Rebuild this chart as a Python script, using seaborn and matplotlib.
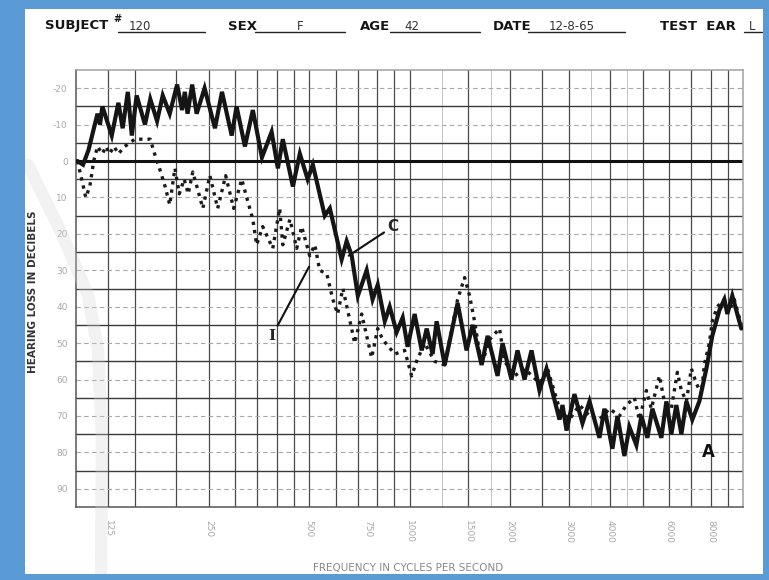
import matplotlib
matplotlib.use("Agg")
import matplotlib.pyplot as plt
from matplotlib.patches import Rectangle
from matplotlib.lines import Line2D
import pandas as pd
import seaborn as sns

# Continuous-tone Bekesy tracing (C): frequency in Hz, threshold in dB
cont_freq = [101, 105, 109, 116, 118, 120, 128, 134, 138, 143, 147, 152, 161, 167,
             175, 182, 191, 201, 208, 212, 216, 223, 230, 243, 261, 274, 293, 303,
             321, 339, 361, 386, 403, 417, 447, 469, 495, 513, 557, 577, 626, 648,
             671, 700, 744, 775, 803, 843, 872, 915, 954, 987, 1036, 1088, 1126,
             1173, 1206, 1275, 1394, 1483, 1546, 1645, 1715, 1837, 1901, 2022, 2108,
             2213, 2322, 2453, 2575, 2817, 2876, 2957, 3123, 3301, 3465, 3711, 3842,
             4059, 4202, 4410, 4563, 4789, 4958, 5168, 5348, 5691, 5892, 6097, 6312,
             6534, 6765, 7048, 7397, 7766, 8091, 8493, 8791, 8977, 9287, 9883]
cont_db = [0, 1, -3, -13, -10, -15, -7, -16, -9, -19, -7, -18, -10, -17,
           -11, -18, -13, -21, -14, -19, -13, -21, -13, -20, -9, -19, -7, -15,
           -4, -14, -1, -8, 2, -6, 7, -2, 5, 1, 15, 13, 27, 22,
           26, 37, 30, 38, 34, 44, 40, 47, 43, 51, 42, 52, 46,
           53, 44, 56, 39, 52, 45, 56, 48, 59, 50, 60, 52,
           60, 52, 63, 57, 71, 67, 74, 64, 72, 66, 76, 68,
           79, 70, 81, 73, 78, 70, 76, 68, 76, 66, 75, 67,
           75, 66, 71, 66, 57, 48, 41, 38, 42, 37, 46]

# Interrupted-tone Bekesy tracing (I)
intr_freq = [101, 104, 107, 110, 113, 116, 120, 123, 126, 130, 134, 140, 150, 161,
             167, 172, 178, 185, 191, 198, 204, 211, 217, 224, 232, 240, 252, 266,
             281, 297, 314, 325, 339, 348, 363, 389, 408, 417, 438, 459, 475, 502,
             520, 538, 565, 589, 609, 631, 649, 685, 719, 770, 803, 831, 903, 967,
             1015, 1050, 1110, 1189, 1275, 1394, 1463, 1514, 1567, 1645, 1738, 1862,
             1928, 2065, 2213, 2453, 2593, 2817, 3017, 3233, 3465, 3711, 3975, 4259,
             4471, 4723, 4890, 5132, 5312, 5614, 5811, 6097, 6356, 6534, 6765, 7000,
             7244, 7499, 7657, 7924, 8091, 8373, 8791, 9101, 9415, 9883]
intr_db = [0, 5, 10, 7, 0, -4, -2, -4, -2, -4, -2, -4, -6, -6,
           -6, -2, 2, 7, 12, 2, 9, 5, 9, 3, 8, 13, 4, 13,
           4, 13, 5, 10, 16, 23, 18, 24, 13, 23, 16, 24, 18, 26,
           23, 30, 31, 38, 42, 35, 40, 50, 42, 54, 46, 49, 53, 52,
           59, 55, 50, 55, 56, 38, 32, 37, 44, 56, 49, 46,
           55, 59, 57, 61, 57, 68, 71, 67, 70, 71, 68, 70,
           67, 65, 71, 63, 68, 59, 66, 68, 58, 63, 66, 57,
           61, 64, 56, 50, 44, 40, 38, 41, 38, 45]

freq_ticks = [125, 250, 500, 750, 1000, 1500, 2000, 3000, 4000, 6000, 8000]
freq_labels = ["125", "250", "500", "750", "1000", "1500", "2000", "3000",
               "4000", "6000", "8000"]
db_ticks = [-20, -10, 0, 10, 20, 30, 40, 50, 60, 70, 80, 90]
db_labels = ["-20", "-10", "0", "10", "20", "30", "40", "50", "60", "70", "80", "90"]

# Chart-paper rulings
major_h = [-15, -5, 5, 15, 25, 35, 45, 55, 65, 75, 85]
minor_h = [-20, -10, 10, 20, 30, 40, 50, 60, 70, 80, 90]
grid_v = [125, 150, 200, 250, 300, 350, 400, 450, 500, 600, 700, 800, 900, 1000,
          1500, 2000, 2500, 3000, 4000, 5000, 6000, 7000, 8000, 9000]
faint_v = [1250, 1750, 3500, 4500]

sns.set_style("white")
plt.rcParams["font.family"] = ["DejaVu Sans"]

W, H = 769, 580
fig = plt.figure(figsize=(W / 100, H / 100), dpi=100)
fig.patch.set_facecolor("white")
ax = fig.add_axes([76 / W, 1 - 507 / H, (743 - 76) / W, (507 - 70) / H])

ax.set_xscale("log")
ax.set_xlim(100, 10000)
ax.set_ylim(95, -25)

for f in grid_v:
    ax.axvline(f, color="#4a4a4a", lw=0.9, zorder=1)
for f in faint_v:
    ax.axvline(f, color="#c4c4c4", lw=0.7, zorder=1)
for d in major_h:
    ax.axhline(d, color="#3a3a3a", lw=1.0, zorder=1)
for d in minor_h:
    ax.axhline(d, color="#a8a8a8", lw=0.8, ls=(0, (4, 3)), zorder=1)
ax.axhline(0, color="#111111", lw=2.2, zorder=1)

cont = pd.DataFrame({"freq": cont_freq, "db": cont_db})
intr = pd.DataFrame({"freq": intr_freq, "db": intr_db})

sns.lineplot(data=intr, x="freq", y="db", sort=False, estimator=None, ax=ax,
             color="#1a1a1a", lw=2.4, linestyle=(0, (1.0, 1.5)), zorder=3)
sns.lineplot(data=cont, x="freq", y="db", sort=False, estimator=None, ax=ax,
             color="#151515", lw=3.0, zorder=4, solid_joinstyle="miter")

ax.set_xlabel("")
ax.set_ylabel("")
ax.set_xticks(freq_ticks)
ax.set_xticklabels(freq_labels, rotation=270, fontsize=6.5, color="#a8a8a8")
ax.xaxis.set_minor_locator(matplotlib.ticker.NullLocator())
ax.set_yticks(db_ticks)
ax.set_yticklabels(db_labels, fontsize=6.5, color="#a8a8a8")
ax.tick_params(axis="both", direction="inout", length=6, width=1, color="#555555")
ax.tick_params(axis="x", pad=6)
ax.tick_params(axis="y", pad=3)
for name, sp in ax.spines.items():
    sp.set_visible(True)
    sp.set_color("#555555" if name in ("left", "bottom") else "#a0a0a0")
    sp.set_linewidth(1.1)

# Trace labels with leader lines
ax.annotate("C", xy=(657, 26), xytext=(858, 18), fontsize=11, fontweight="bold",
            va="center", ha="left",
            arrowprops=dict(arrowstyle="-", color="#111111", lw=1.5, shrinkA=0, shrinkB=0))
ax.annotate("I", xy=(500, 29), xytext=(397, 48), fontsize=11, fontweight="bold",
            family="DejaVu Serif", va="center", ha="right",
            arrowprops=dict(arrowstyle="-", color="#111111", lw=1.5, shrinkA=0, shrinkB=0))
ax.text(7900, 80, "A", fontsize=12, fontweight="bold", ha="center", va="center",
        color="#111111")

# Axis titles
fig.text(33 / W, 1 - 292 / H, "HEARING LOSS IN DECIBELS", rotation=90, fontsize=7.5,
         fontweight="bold", color="#333333", ha="center", va="center")
fig.text(408 / W, 1 - 568 / H, "FREQUENCY IN CYCLES PER SECOND", fontsize=7.5,
         color="#8a8a8a", ha="center", va="center")

# Record header
hy = 1 - 26 / H
ly = 1 - 32 / H
hdr = dict(fontsize=9.5, fontweight="bold", color="#151515", va="center")
val = dict(fontsize=8.5, color="#333333", va="center", ha="center")
fig.text(45 / W, hy, "SUBJECT", ha="left", **hdr)
fig.text(113 / W, 1 - 19 / H, "#", ha="left", fontsize=7, fontweight="bold", color="#151515", va="center")
fig.text(228 / W, hy, "SEX", ha="left", **hdr)
fig.text(360 / W, hy, "AGE", ha="left", **hdr)
fig.text(493 / W, hy, "DATE", ha="left", **hdr)
fig.text(660 / W, hy, "TEST  EAR", ha="left", **hdr)
fig.text(140 / W, hy, "120", **val)
fig.text(300 / W, hy, "F", **val)
fig.text(412 / W, hy, "42", **val)
fig.text(572 / W, hy, "12-8-65", **val)
fig.text(752 / W, hy, "L", **val)
for x0, x1 in [(118, 205), (255, 345), (390, 480), (528, 625), (744, 762)]:
    fig.add_artist(Line2D([x0 / W, x1 / W], [ly, ly], color="#222222", lw=1.0))

# Scanner shadow band on the left margin
fig.add_artist(Line2D([28 / W, 60 / W, 88 / W, 98 / W, 102 / W, 101 / W],
                      [1 - 165 / H, 1 - 230 / H, 1 - 295 / H, 1 - 350 / H, 1 - 440 / H, 0],
                      color="#d6d6d6", lw=9, alpha=0.3, zorder=10))

# Slide frame
blue = "#5b9bd5"
for rect in [(0, 0, 25 / W, 1), (0, 1 - 9 / H, 1, 9 / H), (0, 0, 1, 6 / H),
             (1 - 6 / W, 0, 6 / W, 1)]:
    fig.add_artist(Rectangle(rect[:2], rect[2], rect[3], transform=fig.transFigure,
                             facecolor=blue, edgecolor="none", zorder=20))

fig.savefig("out.png", dpi=100)
